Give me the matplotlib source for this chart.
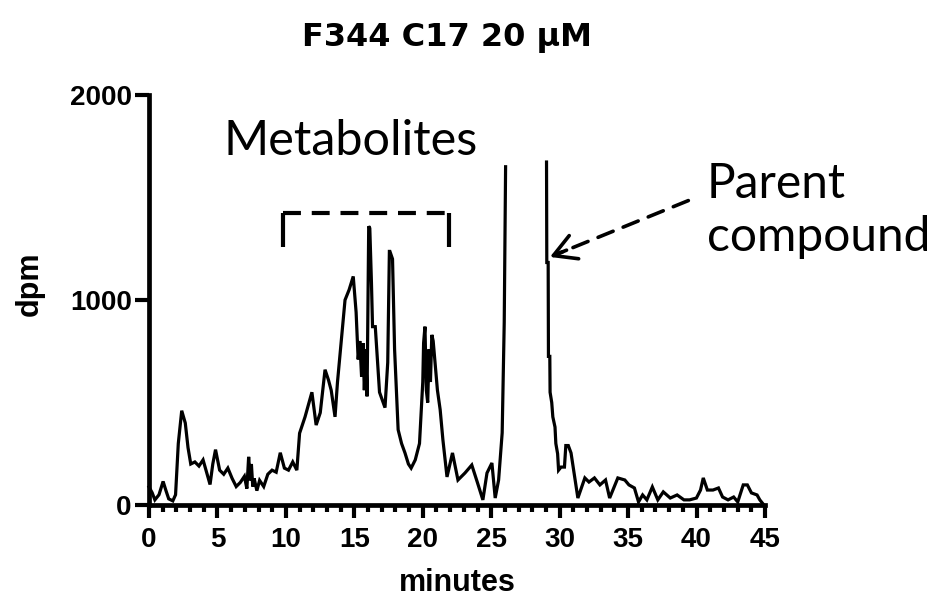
import numpy as np
import matplotlib
matplotlib.use("Agg")
import matplotlib.pyplot as plt

# ---- data ----
minutes = [0.0, 0.23, 0.43, 0.73, 1.03, 1.24, 1.44, 1.74, 1.94, 2.14, 2.39, 2.65, 2.85,
           3.05, 3.35, 3.65, 3.95, 4.25, 4.46, 4.66, 4.86, 5.16, 5.46, 5.76, 6.07, 6.37,
           6.67, 6.97, 7.15, 7.28, 7.40, 7.48, 7.58, 7.68, 7.88, 8.08, 8.38, 8.68, 8.99,
           9.29, 9.59, 9.89, 10.19, 10.50, 10.80, 11.0, 11.40, 11.90, 12.21, 12.51, 12.86,
           13.11, 13.31, 13.59, 13.77, 13.92, 14.32, 14.62, 14.92, 15.13, 15.28, 15.40,
           15.53, 15.63, 15.73, 15.83, 15.93, 16.05, 16.13, 16.25, 16.33, 16.53, 16.84,
           17.24, 17.44, 17.56, 17.60, 17.79, 17.94, 18.20, 18.45, 18.70, 18.95, 19.15,
           19.45, 19.76, 20.00, 20.06, 20.16, 20.26, 20.36, 20.46, 20.56, 20.66, 20.76,
           21.07, 21.27, 21.47, 21.77, 22.17, 22.57, 23.08, 23.58, 23.98, 24.39, 24.69,
           25.05, 25.29, 25.54, 25.80, 25.95, 26.05, 27.5, 29.04, 29.06, 29.16, 29.18,
           29.28, 29.30, 29.42, 29.50, 29.66, 29.72, 29.85, 29.92, 30.10, 30.35, 30.45,
           30.63, 30.83, 31.13, 31.33, 31.53, 31.84, 32.14, 32.54, 32.94, 33.35, 33.65,
           33.95, 34.25, 34.76, 35.06, 35.46, 35.76, 36.06, 36.37, 36.77, 37.17, 37.57,
           38.08, 38.58, 39.08, 39.49, 39.99, 40.29, 40.49, 40.79, 41.20, 41.60, 41.90,
           42.30, 42.71, 43.01, 43.41, 43.71, 44.01, 44.42, 44.62, 44.92]
dpm = [88, 60, 25, 50, 115, 70, 30, 20, 50, 300, 460, 400, 280,
       200, 210, 190, 220, 150, 100, 200, 270, 170, 150, 180, 130, 90,
       110, 140, 80, 235, 120, 200, 90, 130, 70, 120, 90, 150, 170,
       160, 255, 180, 170, 210, 170, 350, 430, 550, 390, 450, 660,
       610, 560, 430, 600, 710, 1000, 1050, 1115, 940, 710, 800,
       625, 790, 560, 760, 530, 1360, 1350, 1085, 870, 870, 550,
       475, 695, 1237, 1237, 1200, 760, 367, 300, 254, 200, 180,
       220, 300, 600, 790, 870, 560, 500, 760, 600, 830, 800,
       560, 465, 318, 137, 254, 122, 156, 195, 112, 25, 156,
       205, 34, 122, 352, 890, 1650, np.nan, 1673, 1183, 1183, 725,
       725, 550, 500, 430, 380, 300, 250, 170, 185, 185, 290,
       290, 254, 122, 34, 73, 132, 112, 132, 98, 122, 34,
       83, 132, 122, 98, 83, 15, 49, 25, 88, 25, 64,
       34, 49, 25, 25, 34, 73, 132, 73, 73, 83, 39,
       25, 39, 15, 98, 98, 59, 49, 25, 0]

x_ticks = [0, 5, 10, 15, 20, 25, 30, 35, 40, 45]
y_ticks = [0, 1000, 2000]
title = "F344 C17 20 µM"
x_label = "minutes"
y_label = "dpm"
bracket_x = [9.76, 21.88]
bracket_y = [1260, 1426]
arrow_tip = (29.29, 1210)
arrow_start = (39.4, 1485)

# ---- figure ----
W, H = 939, 597
fig = plt.figure(figsize=(W / 100, H / 100), dpi=100)
ax = fig.add_axes([149 / W, 92 / H, 616 / W, 410 / H])

ax.plot(minutes, dpm, color="black", lw=2.3, clip_on=False, zorder=3,
        solid_joinstyle="miter")

ax.set_xlim(0, 45)
ax.set_ylim(0, 2000)
for s in ("top", "right"):
    ax.spines[s].set_visible(False)
for s in ("left", "bottom"):
    ax.spines[s].set_linewidth(3.4)
    ax.spines[s].set_capstyle("projecting")

ax.set_xticks(x_ticks)
ax.set_xticks(np.arange(0, 46, 1), minor=True)
ax.set_yticks(y_ticks)
tick_font = dict(family="Liberation Sans", weight="bold", size=20)
ax.set_xticklabels([str(t) for t in x_ticks], fontdict=tick_font)
ax.set_yticklabels([str(t) for t in y_ticks], fontdict=tick_font)
ax.tick_params(axis="x", which="major", length=9, width=3, pad=6.5, direction="out")
ax.tick_params(axis="x", which="minor", length=5, width=3, direction="out")
ax.tick_params(axis="y", which="major", length=10, width=3, pad=2.5, direction="out")

ax.set_xlabel(x_label, fontdict=dict(family="Liberation Sans", weight="bold", size=22))
ax.xaxis.label.set_va("baseline")
ax.xaxis.set_label_coords((457 - 149) / 616, (505 - 591) / 410)
ax.set_ylabel(y_label, fontdict=dict(family="Liberation Sans", weight="bold", size=22))
ax.yaxis.label.set_va("center")
ax.yaxis.set_label_coords((30 - 149) / 616, (505 - 284) / 410)

fig.text(447.5 / W, 1 - 46 / H, title, ha="center", va="baseline",
         family="DejaVu Sans", weight="bold", size=23)

# annotations
fig.text(223 / W, 1 - 155 / H, "Metabolites", ha="left", va="baseline",
         family="Lato", size=35)
fig.text(707 / W, 1 - 198 / H, "Parent", ha="left", va="baseline",
         family="Lato", size=34.5)
fig.text(707 / W, 1 - 251 / H, "compound", ha="left", va="baseline",
         family="Lato", size=34.5)

# bracket
ax.plot([bracket_x[0], bracket_x[0]], [bracket_y[0], bracket_y[1]], color="black",
        lw=3, solid_capstyle="butt", clip_on=False)
ax.plot([bracket_x[1], bracket_x[1]], [bracket_y[0], bracket_y[1]], color="black",
        lw=3, solid_capstyle="butt", clip_on=False)
ax.plot(bracket_x, [bracket_y[1], bracket_y[1]], color="black", lw=3,
        linestyle=(0, (4.3, 2.6)), dash_capstyle="butt", clip_on=False)

# arrow: dashed shaft + solid head
ax.annotate("", xy=arrow_tip, xytext=arrow_start,
            arrowprops=dict(arrowstyle="-", lw=2.6, linestyle=(0, (4.5, 3)),
                            color="black", shrinkA=0, shrinkB=4))
dx = arrow_start[0] - arrow_tip[0]
dy = arrow_start[1] - arrow_tip[1]
ax.annotate("", xy=arrow_tip, xytext=(arrow_tip[0] + dx * 0.12, arrow_tip[1] + dy * 0.12),
            arrowprops=dict(arrowstyle="->,head_length=0.8,head_width=0.45",
                            mutation_scale=20, lw=2.6, color="black",
                            shrinkA=0, shrinkB=0))

fig.savefig("out.png", dpi=100)
